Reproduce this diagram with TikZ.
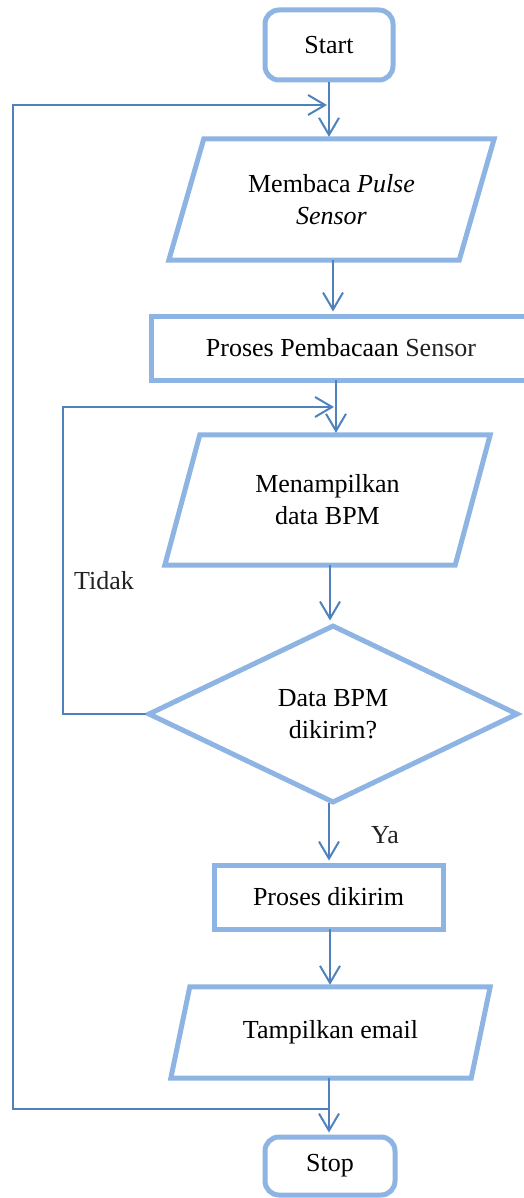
\documentclass[tikz,border=0pt]{standalone}
\usepackage{fontspec}
\setmainfont{Liberation Serif}
\usetikzlibrary{arrows.meta,calc,shapes.geometric}
\definecolor{boxblue}{HTML}{8DB4E2}
\definecolor{lineblue}{HTML}{4F81BD}
\definecolor{labelgray}{HTML}{222222}
\tikzset{
  every node/.style={font=\fontsize{26}{32}\selectfont, text=black},
  box/.style={draw=boxblue, line width=5pt},
  term/.style={box, rectangle, rounded corners=14pt, inner sep=0pt},
  procbox/.style={box, rectangle, inner sep=0pt},
  iobox/.style={rectangle, inner sep=0pt, align=center},
  decbox/.style={box, diamond, inner sep=0pt, align=center},
  arr/.style={draw=lineblue, line width=2pt, -{Straight Barb[length=17pt,width=20pt]}, shorten >=2pt},
  ln/.style={draw=lineblue, line width=2pt},
  lbl/.style={text=labelgray}
}
\begin{document}
\begin{tikzpicture}[x=1pt,y=-1pt]
\useasboundingbox (0,0) rectangle (523,1198);
% nodes
\node[term, minimum width=128pt, minimum height=70pt] (start) at (329,45) {Start};
\node[iobox, minimum width=255pt, minimum height=121pt] (membaca) at (331.5,199.5) {Membaca \textit{Pulse}\\\textit{Sensor}};
\draw[box] (membaca.north west) -- ($(membaca.north east)+(35,0)$) -- (membaca.south east) -- ($(membaca.south west)+(-35,0)$) -- cycle;
\node[procbox, minimum width=380pt, minimum height=64pt] (proses1) at (341,348) {Proses Pembacaan {\color{labelgray}Sensor}};
\node[iobox, minimum width=255pt, minimum height=130pt] (tampil) at (327.5,500) {Menampilkan\\data BPM};
\draw[box] (tampil.north west) -- ($(tampil.north east)+(35,0)$) -- (tampil.south east) -- ($(tampil.south west)+(-35,0)$) -- cycle;
\node[decbox, minimum width=370pt, minimum height=178pt] (dec) at (333,714) {Data BPM\\dikirim?};
\node[procbox, minimum width=229pt, minimum height=64pt] (proses2) at (328.5,897) {Proses dikirim};
\node[iobox, minimum width=281pt, minimum height=91pt] (email) at (330.5,1032.5) {Tampilkan email};
\draw[box] (email.north west) -- ($(email.north east)+(19,0)$) -- (email.south east) -- ($(email.south west)+(-19,0)$) -- cycle;
\node[term, minimum width=130pt, minimum height=58pt] (stop) at (330,1166) {Stop};
% labels
\node[lbl] (tidak) at (104,581) {Tidak};
\node[lbl] (ya) at (385,835) {Ya};
% helper coordinates
\coordinate (j1) at (329,105);
\coordinate (lt) at (13,105);
\coordinate (lb) at (13,1109);
\coordinate (j2) at (329,1109);
\coordinate (k1) at (336,407);
\coordinate (kt) at (63,407);
% connectors
\draw[arr] (start.south) -- (start.south |- membaca.north);
\draw[arr] (j2) -- (lb) -- (lt) -- (j1);
\draw[arr] (333,260) coordinate (m1) -- (m1 |- proses1.north);
\draw[arr] (336,380) coordinate (p1) -- (p1 |- tampil.north);
\draw[arr] (dec.west) -- (dec.west -| kt) -- (kt) -- (k1);
\draw[arr] (330,565) coordinate (t1) -- (t1 |- dec.north);
\draw[arr] (329,803) coordinate (d1) -- (d1 |- proses2.north);
\draw[arr] (330,929) coordinate (p2) -- (p2 |- email.north);
\draw[arr] (329,1078) coordinate (e1) -- (e1 |- stop.north);
\end{tikzpicture}
\end{document}
